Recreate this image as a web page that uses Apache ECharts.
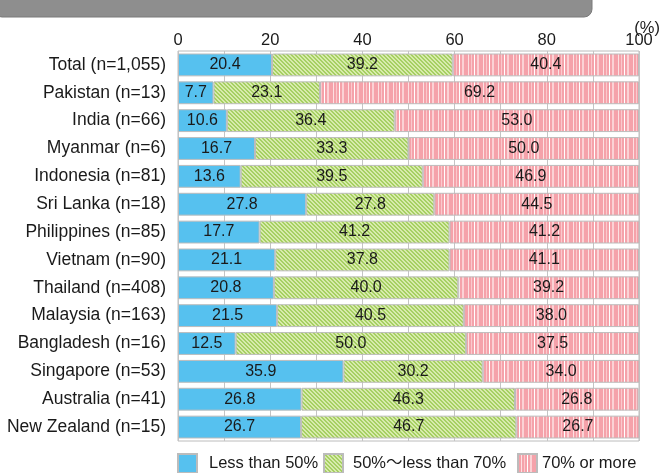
<!DOCTYPE html>
<html>
<head>
<meta charset="utf-8">
<script src="https://cdn.jsdelivr.net/npm/echarts@6/dist/echarts.min.js"></script>
<style>
  html, body { margin: 0; padding: 0; background: #fff; }
  #chart { width: 659px; height: 473px; }
</style>
</head>
<body>
<div id="chart"></div>
<script>
// Respondents by country, split into three share bands (%)
const categories = [
  'Total (n=1,055)', 'Pakistan (n=13)', 'India (n=66)', 'Myanmar (n=6)',
  'Indonesia (n=81)', 'Sri Lanka (n=18)', 'Philippines (n=85)', 'Vietnam (n=90)',
  'Thailand (n=408)', 'Malaysia (n=163)', 'Bangladesh (n=16)', 'Singapore (n=53)',
  'Australia (n=41)', 'New Zealand (n=15)'
];
const lessThan50 = [20.4, 7.7, 10.6, 16.7, 13.6, 27.8, 17.7, 21.1, 20.8, 21.5, 12.5, 35.9, 26.8, 26.7];
const from50to70 = [39.2, 23.1, 36.4, 33.3, 39.5, 27.8, 41.2, 37.8, 40.0, 40.5, 50.0, 30.2, 46.3, 46.7];
const over70     = [40.4, 69.2, 53.0, 50.0, 46.9, 44.5, 41.2, 41.1, 39.2, 38.0, 37.5, 34.0, 26.8, 26.7];
const seriesNames = ['Less than 50%', '50%\u301Cless than 70%', '70% or more'];
const axisTicks = [0, 20, 40, 60, 80, 100];

const FONT = '"Liberation Sans", Arial, "Noto Sans CJK JP", sans-serif';

// Diagonal hatch fill for the middle band
function makeHatch() {
  const c = document.createElement('canvas');
  c.width = 8; c.height = 8;
  const g = c.getContext('2d');
  g.fillStyle = '#d8ebad';
  g.fillRect(0, 0, 8, 8);
  g.fillStyle = '#a6d062';
  for (let y = 0; y < 8; y++) {
    for (let x = 0; x < 8; x++) {
      const m = ((x - y) % 4 + 4) % 4;
      if (m === 0 || m === 1) g.fillRect(x, y, 1, 1);
    }
  }
  return c;
}

// Irregular vertical stripe fill for the top band
function makeStripes() {
  const cols = [
    ['#f5a2aa', 3], ['#fde0e2', 1], ['#f5a2aa', 2], ['#fbc9cd', 1],
    ['#f5a2aa', 2], ['#ffffff', 1], ['#f5a2aa', 2], ['#fbd2d5', 2], ['#f5a2aa', 1]
  ];
  const w = cols.reduce((s, c) => s + c[1], 0);
  const c = document.createElement('canvas');
  c.width = w; c.height = 4;
  const g = c.getContext('2d');
  let x = 0;
  cols.forEach(([col, cw]) => { g.fillStyle = col; g.fillRect(x, 0, cw, 4); x += cw; });
  return c;
}

const fills = [
  '#56c1ef',
  { image: makeHatch(), repeat: 'repeat' },
  { image: makeStripes(), repeat: 'repeat' }
];
const values = [lessThan50, from50to70, over70];

const chart = echarts.init(document.getElementById('chart'), null, { renderer: 'canvas' });

const series = seriesNames.map((name, i) => ({
  name,
  type: 'bar',
  stack: 'share',
  barCategoryGap: '18%',
  data: values[i],
  itemStyle: { color: fills[i], borderColor: '#bcbcbc', borderWidth: 1 },
  label: {
    show: true,
    position: 'inside',
    formatter: p => p.value.toFixed(1),
    color: '#1a1a1a',
    fontFamily: FONT,
    fontSize: 16
  },
  emphasis: { disabled: true }
}));

// One legend per series so each entry sits at its own x position
const legendLeft = [172, 318, 512];
const legendTextGap = [7, 5, 0];
const legends = seriesNames.map((name, i) => ({
  data: [name],
  left: legendLeft[i],
  top: 448,
  itemWidth: 19,
  itemHeight: 19,
  icon: 'rect',
  itemGap: 0,
  textStyle: { fontFamily: FONT, fontSize: 16.5, color: '#1a1a1a', padding: [0, 0, 0, legendTextGap[i]] },
  selectedMode: false
}));

chart.setOption({
  animation: false,
  backgroundColor: '#fff',
  grid: {
    left: 178, right: 20, top: 51, bottom: 32,
    show: true, borderColor: '#bcbcbc', borderWidth: 1, containLabel: false
  },
  xAxis: {
    type: 'value',
    position: 'top',
    min: 0, max: 100, interval: 10,
    axisLine: { show: false },
    axisTick: { show: false },
    axisLabel: {
      formatter: v => (axisTicks.indexOf(v) >= 0 ? String(v) : ''),
      fontFamily: FONT, fontSize: 16.5, color: '#1a1a1a', margin: 2
    },
    splitLine: { show: true, lineStyle: { color: '#c4c4c4', width: 1 } }
  },
  yAxis: {
    type: 'category',
    inverse: true,
    data: categories,
    axisLine: { show: false },
    axisTick: { show: false },
    axisLabel: { fontFamily: FONT, fontSize: 17.5, color: '#1a1a1a', margin: 12 }
  },
  legend: legends,
  series,
  graphic: [
    {
      type: 'rect',
      shape: { x: -6, y: -12, width: 598, height: 29, r: 8 },
      style: { fill: '#8e8e8e', stroke: '#7a7a7a', lineWidth: 1 }
    },
    {
      type: 'text',
      right: -1, top: 20,
      style: { text: '(%)', fontFamily: FONT, fontSize: 16.5, fill: '#1a1a1a' }
    }
  ]
});
</script>
</body>
</html>
